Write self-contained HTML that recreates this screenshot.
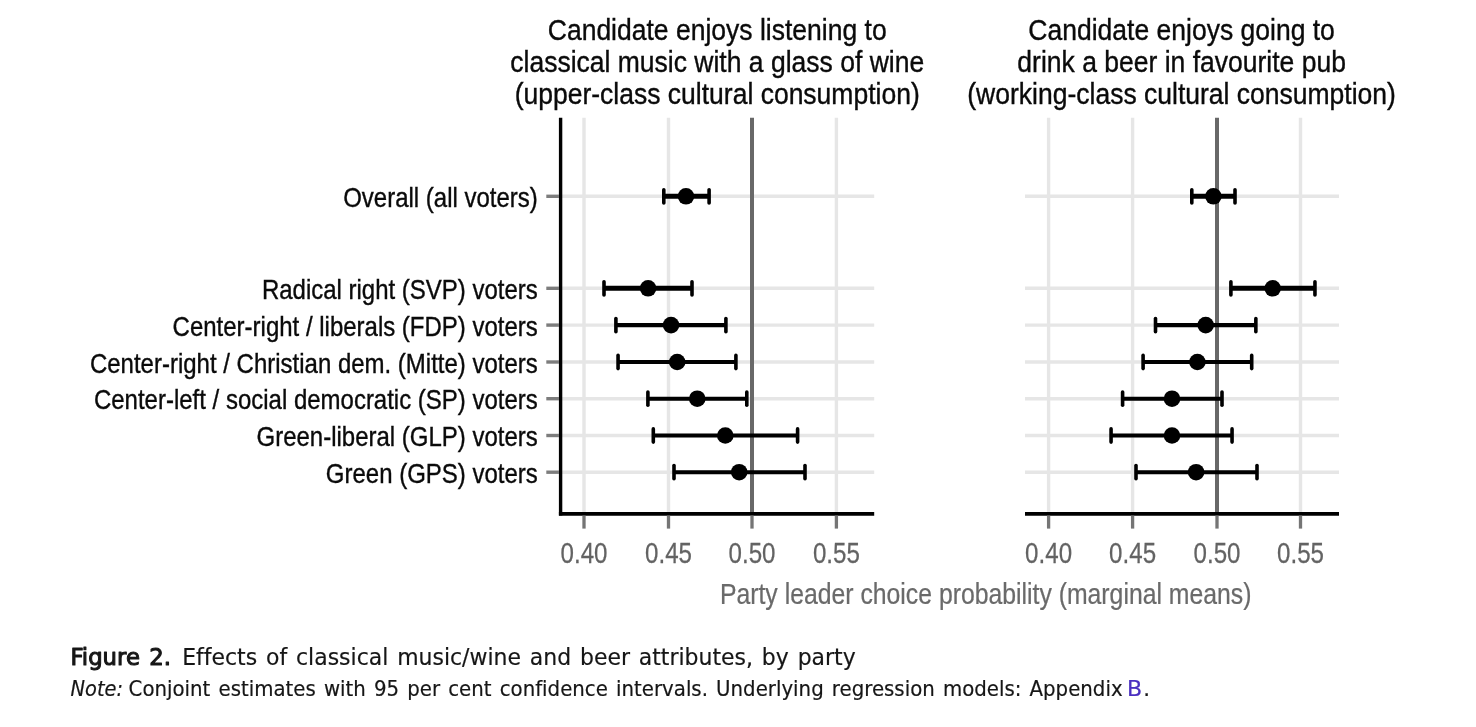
<!DOCTYPE html>
<html lang="en">
<head>
<meta charset="utf-8">
<title>Figure 2. Effects of classical music/wine and beer attributes, by party</title>
<style>
html,body{margin:0;padding:0;background:#fff;}
body{width:1476px;height:727px;overflow:hidden;font-family:"Liberation Sans",sans-serif;}
svg{display:block;}
text{white-space:pre;}
</style>
</head>
<body>
<svg width="1476" height="727" viewBox="0 0 1476 727" font-family="'Liberation Sans', sans-serif">
<rect width="1476" height="727" fill="#fff"/>
<text transform="translate(717.2,39.6) scale(0.8865,1)" text-anchor="middle" font-size="29.9" fill="#0a0a0a" stroke="#0a0a0a" stroke-width="0.38">Candidate enjoys listening to</text>
<text transform="translate(717.2,71.6) scale(0.8865,1)" text-anchor="middle" font-size="29.9" fill="#0a0a0a" stroke="#0a0a0a" stroke-width="0.38">classical music with a glass of wine</text>
<text transform="translate(717.2,103.6) scale(0.8865,1)" text-anchor="middle" font-size="29.9" fill="#0a0a0a" stroke="#0a0a0a" stroke-width="0.38">(upper-class cultural consumption)</text>
<text transform="translate(1181.6,39.6) scale(0.8865,1)" text-anchor="middle" font-size="29.9" fill="#0a0a0a" stroke="#0a0a0a" stroke-width="0.38">Candidate enjoys going to</text>
<text transform="translate(1181.6,71.6) scale(0.8865,1)" text-anchor="middle" font-size="29.9" fill="#0a0a0a" stroke="#0a0a0a" stroke-width="0.38">drink a beer in favourite pub</text>
<text transform="translate(1181.6,103.6) scale(0.8865,1)" text-anchor="middle" font-size="29.9" fill="#0a0a0a" stroke="#0a0a0a" stroke-width="0.38">(working-class cultural consumption)</text>
<line x1="584.0" y1="117.8" x2="584.0" y2="513.8" stroke="#e6e6e6" stroke-width="3.4"/>
<line x1="668.5" y1="117.8" x2="668.5" y2="513.8" stroke="#e6e6e6" stroke-width="3.4"/>
<line x1="836.4" y1="117.8" x2="836.4" y2="513.8" stroke="#e6e6e6" stroke-width="3.4"/>
<line x1="560.6" y1="196.3" x2="874.2" y2="196.3" stroke="#e6e6e6" stroke-width="3.4"/>
<line x1="560.6" y1="288.3" x2="874.2" y2="288.3" stroke="#e6e6e6" stroke-width="3.4"/>
<line x1="560.6" y1="325.1" x2="874.2" y2="325.1" stroke="#e6e6e6" stroke-width="3.4"/>
<line x1="560.6" y1="362.0" x2="874.2" y2="362.0" stroke="#e6e6e6" stroke-width="3.4"/>
<line x1="560.6" y1="398.7" x2="874.2" y2="398.7" stroke="#e6e6e6" stroke-width="3.4"/>
<line x1="560.6" y1="435.5" x2="874.2" y2="435.5" stroke="#e6e6e6" stroke-width="3.4"/>
<line x1="560.6" y1="472.2" x2="874.2" y2="472.2" stroke="#e6e6e6" stroke-width="3.4"/>
<line x1="752.0" y1="117.8" x2="752.0" y2="513.8" stroke="#686868" stroke-width="4"/>
<g stroke="#000" stroke-linecap="round" fill="none"><line x1="663.8" y1="196.3" x2="709.1" y2="196.3" stroke-width="5.0" stroke-linecap="butt"/><line x1="663.8" y1="189.7" x2="663.8" y2="202.9" stroke-width="3.6"/><line x1="709.1" y1="189.7" x2="709.1" y2="202.9" stroke-width="3.6"/></g>
<circle cx="686" cy="196.3" r="8.3" fill="#000"/>
<g stroke="#000" stroke-linecap="round" fill="none"><line x1="604.0" y1="288.3" x2="692" y2="288.3" stroke-width="5.0" stroke-linecap="butt"/><line x1="604.0" y1="281.7" x2="604.0" y2="294.9" stroke-width="3.6"/><line x1="692" y1="281.7" x2="692" y2="294.9" stroke-width="3.6"/></g>
<circle cx="648.1" cy="288.3" r="8.3" fill="#000"/>
<g stroke="#000" stroke-linecap="round" fill="none"><line x1="615.9" y1="325.1" x2="725.9" y2="325.1" stroke-width="4.1" stroke-linecap="butt"/><line x1="615.9" y1="318.5" x2="615.9" y2="331.7" stroke-width="3.6"/><line x1="725.9" y1="318.5" x2="725.9" y2="331.7" stroke-width="3.6"/></g>
<circle cx="671.05" cy="325.1" r="8.3" fill="#000"/>
<g stroke="#000" stroke-linecap="round" fill="none"><line x1="618.06" y1="362.0" x2="735.9" y2="362.0" stroke-width="4.1" stroke-linecap="butt"/><line x1="618.06" y1="355.4" x2="618.06" y2="368.6" stroke-width="3.6"/><line x1="735.9" y1="355.4" x2="735.9" y2="368.6" stroke-width="3.6"/></g>
<circle cx="677.2" cy="362.0" r="8.3" fill="#000"/>
<g stroke="#000" stroke-linecap="round" fill="none"><line x1="647.9" y1="398.7" x2="746.8" y2="398.7" stroke-width="4.1" stroke-linecap="butt"/><line x1="647.9" y1="392.1" x2="647.9" y2="405.3" stroke-width="3.6"/><line x1="746.8" y1="392.1" x2="746.8" y2="405.3" stroke-width="3.6"/></g>
<circle cx="697.25" cy="398.7" r="8.3" fill="#000"/>
<g stroke="#000" stroke-linecap="round" fill="none"><line x1="653.3" y1="435.5" x2="797.6" y2="435.5" stroke-width="4.1" stroke-linecap="butt"/><line x1="653.3" y1="428.9" x2="653.3" y2="442.1" stroke-width="3.6"/><line x1="797.6" y1="428.9" x2="797.6" y2="442.1" stroke-width="3.6"/></g>
<circle cx="725.3" cy="435.5" r="8.3" fill="#000"/>
<g stroke="#000" stroke-linecap="round" fill="none"><line x1="674" y1="472.2" x2="805" y2="472.2" stroke-width="4.1" stroke-linecap="butt"/><line x1="674" y1="465.6" x2="674" y2="478.8" stroke-width="3.6"/><line x1="805" y1="465.6" x2="805" y2="478.8" stroke-width="3.6"/></g>
<circle cx="739.2" cy="472.2" r="8.3" fill="#000"/>
<line x1="558.9" y1="513.8" x2="874.2" y2="513.8" stroke="#000" stroke-width="3.7"/>
<line x1="584.0" y1="515.6" x2="584.0" y2="528.6" stroke="#757575" stroke-width="3.3"/>
<text transform="translate(584.0,562.6) scale(0.815,1)" text-anchor="middle" font-size="29.6" fill="#636363" stroke="#636363" stroke-width="0.25">0.40</text>
<line x1="668.5" y1="515.6" x2="668.5" y2="528.6" stroke="#757575" stroke-width="3.3"/>
<text transform="translate(668.5,562.6) scale(0.815,1)" text-anchor="middle" font-size="29.6" fill="#636363" stroke="#636363" stroke-width="0.25">0.45</text>
<line x1="752.0" y1="515.6" x2="752.0" y2="528.6" stroke="#757575" stroke-width="3.3"/>
<text transform="translate(752.0,562.6) scale(0.815,1)" text-anchor="middle" font-size="29.6" fill="#636363" stroke="#636363" stroke-width="0.25">0.50</text>
<line x1="836.4" y1="515.6" x2="836.4" y2="528.6" stroke="#757575" stroke-width="3.3"/>
<text transform="translate(836.4,562.6) scale(0.815,1)" text-anchor="middle" font-size="29.6" fill="#636363" stroke="#636363" stroke-width="0.25">0.55</text>
<line x1="560.6" y1="117.8" x2="560.6" y2="515.6" stroke="#000" stroke-width="3.4"/>
<line x1="546.3" y1="196.3" x2="559.0" y2="196.3" stroke="#7d7d7d" stroke-width="3.4"/>
<text transform="translate(537.8,206.9) scale(0.857,1)" text-anchor="end" font-size="28" fill="#0a0a0a" stroke="#0a0a0a" stroke-width="0.38">Overall (all voters)</text>
<line x1="546.3" y1="288.3" x2="559.0" y2="288.3" stroke="#7d7d7d" stroke-width="3.4"/>
<text transform="translate(537.8,298.9) scale(0.857,1)" text-anchor="end" font-size="28" fill="#0a0a0a" stroke="#0a0a0a" stroke-width="0.38">Radical right (SVP) voters</text>
<line x1="546.3" y1="325.1" x2="559.0" y2="325.1" stroke="#7d7d7d" stroke-width="3.4"/>
<text transform="translate(537.8,335.7) scale(0.857,1)" text-anchor="end" font-size="28" fill="#0a0a0a" stroke="#0a0a0a" stroke-width="0.38">Center-right / liberals (FDP) voters</text>
<line x1="546.3" y1="362.0" x2="559.0" y2="362.0" stroke="#7d7d7d" stroke-width="3.4"/>
<text transform="translate(537.8,372.6) scale(0.857,1)" text-anchor="end" font-size="28" fill="#0a0a0a" stroke="#0a0a0a" stroke-width="0.38">Center-right / Christian dem. (Mitte) voters</text>
<line x1="546.3" y1="398.7" x2="559.0" y2="398.7" stroke="#7d7d7d" stroke-width="3.4"/>
<text transform="translate(537.8,409.3) scale(0.857,1)" text-anchor="end" font-size="28" fill="#0a0a0a" stroke="#0a0a0a" stroke-width="0.38">Center-left / social democratic (SP) voters</text>
<line x1="546.3" y1="435.5" x2="559.0" y2="435.5" stroke="#7d7d7d" stroke-width="3.4"/>
<text transform="translate(537.8,446.1) scale(0.857,1)" text-anchor="end" font-size="28" fill="#0a0a0a" stroke="#0a0a0a" stroke-width="0.38">Green-liberal (GLP) voters</text>
<line x1="546.3" y1="472.2" x2="559.0" y2="472.2" stroke="#7d7d7d" stroke-width="3.4"/>
<text transform="translate(537.8,482.8) scale(0.857,1)" text-anchor="end" font-size="28" fill="#0a0a0a" stroke="#0a0a0a" stroke-width="0.38">Green (GPS) voters</text>
<line x1="1048.6" y1="117.8" x2="1048.6" y2="513.8" stroke="#e6e6e6" stroke-width="3.4"/>
<line x1="1132.6" y1="117.8" x2="1132.6" y2="513.8" stroke="#e6e6e6" stroke-width="3.4"/>
<line x1="1300.5" y1="117.8" x2="1300.5" y2="513.8" stroke="#e6e6e6" stroke-width="3.4"/>
<line x1="1025.0" y1="196.3" x2="1339.0" y2="196.3" stroke="#e6e6e6" stroke-width="3.4"/>
<line x1="1025.0" y1="288.3" x2="1339.0" y2="288.3" stroke="#e6e6e6" stroke-width="3.4"/>
<line x1="1025.0" y1="325.1" x2="1339.0" y2="325.1" stroke="#e6e6e6" stroke-width="3.4"/>
<line x1="1025.0" y1="362.0" x2="1339.0" y2="362.0" stroke="#e6e6e6" stroke-width="3.4"/>
<line x1="1025.0" y1="398.7" x2="1339.0" y2="398.7" stroke="#e6e6e6" stroke-width="3.4"/>
<line x1="1025.0" y1="435.5" x2="1339.0" y2="435.5" stroke="#e6e6e6" stroke-width="3.4"/>
<line x1="1025.0" y1="472.2" x2="1339.0" y2="472.2" stroke="#e6e6e6" stroke-width="3.4"/>
<line x1="1217.0" y1="117.8" x2="1217.0" y2="513.8" stroke="#686868" stroke-width="4"/>
<g stroke="#000" stroke-linecap="round" fill="none"><line x1="1191.8" y1="196.3" x2="1235" y2="196.3" stroke-width="5.0" stroke-linecap="butt"/><line x1="1191.8" y1="189.7" x2="1191.8" y2="202.9" stroke-width="3.6"/><line x1="1235" y1="189.7" x2="1235" y2="202.9" stroke-width="3.6"/></g>
<circle cx="1213.4" cy="196.3" r="8.3" fill="#000"/>
<g stroke="#000" stroke-linecap="round" fill="none"><line x1="1230.9" y1="288.3" x2="1314.95" y2="288.3" stroke-width="5.0" stroke-linecap="butt"/><line x1="1230.9" y1="281.7" x2="1230.9" y2="294.9" stroke-width="3.6"/><line x1="1314.95" y1="281.7" x2="1314.95" y2="294.9" stroke-width="3.6"/></g>
<circle cx="1272.7" cy="288.3" r="8.3" fill="#000"/>
<g stroke="#000" stroke-linecap="round" fill="none"><line x1="1155.5" y1="325.1" x2="1255.85" y2="325.1" stroke-width="4.1" stroke-linecap="butt"/><line x1="1155.5" y1="318.5" x2="1155.5" y2="331.7" stroke-width="3.6"/><line x1="1255.85" y1="318.5" x2="1255.85" y2="331.7" stroke-width="3.6"/></g>
<circle cx="1205.7" cy="325.1" r="8.3" fill="#000"/>
<g stroke="#000" stroke-linecap="round" fill="none"><line x1="1143.1" y1="362.0" x2="1251.7" y2="362.0" stroke-width="4.1" stroke-linecap="butt"/><line x1="1143.1" y1="355.4" x2="1143.1" y2="368.6" stroke-width="3.6"/><line x1="1251.7" y1="355.4" x2="1251.7" y2="368.6" stroke-width="3.6"/></g>
<circle cx="1197.4" cy="362.0" r="8.3" fill="#000"/>
<g stroke="#000" stroke-linecap="round" fill="none"><line x1="1122.6" y1="398.7" x2="1222" y2="398.7" stroke-width="4.1" stroke-linecap="butt"/><line x1="1122.6" y1="392.1" x2="1122.6" y2="405.3" stroke-width="3.6"/><line x1="1222" y1="392.1" x2="1222" y2="405.3" stroke-width="3.6"/></g>
<circle cx="1172" cy="398.7" r="8.3" fill="#000"/>
<g stroke="#000" stroke-linecap="round" fill="none"><line x1="1111.06" y1="435.5" x2="1232.05" y2="435.5" stroke-width="4.1" stroke-linecap="butt"/><line x1="1111.06" y1="428.9" x2="1111.06" y2="442.1" stroke-width="3.6"/><line x1="1232.05" y1="428.9" x2="1232.05" y2="442.1" stroke-width="3.6"/></g>
<circle cx="1172" cy="435.5" r="8.3" fill="#000"/>
<g stroke="#000" stroke-linecap="round" fill="none"><line x1="1136" y1="472.2" x2="1257" y2="472.2" stroke-width="4.1" stroke-linecap="butt"/><line x1="1136" y1="465.6" x2="1136" y2="478.8" stroke-width="3.6"/><line x1="1257" y1="465.6" x2="1257" y2="478.8" stroke-width="3.6"/></g>
<circle cx="1196.1" cy="472.2" r="8.3" fill="#000"/>
<line x1="1025.0" y1="513.8" x2="1339.0" y2="513.8" stroke="#000" stroke-width="3.7"/>
<line x1="1048.6" y1="515.6" x2="1048.6" y2="528.6" stroke="#757575" stroke-width="3.3"/>
<text transform="translate(1048.6,562.6) scale(0.815,1)" text-anchor="middle" font-size="29.6" fill="#636363" stroke="#636363" stroke-width="0.25">0.40</text>
<line x1="1132.6" y1="515.6" x2="1132.6" y2="528.6" stroke="#757575" stroke-width="3.3"/>
<text transform="translate(1132.6,562.6) scale(0.815,1)" text-anchor="middle" font-size="29.6" fill="#636363" stroke="#636363" stroke-width="0.25">0.45</text>
<line x1="1217.0" y1="515.6" x2="1217.0" y2="528.6" stroke="#757575" stroke-width="3.3"/>
<text transform="translate(1217.0,562.6) scale(0.815,1)" text-anchor="middle" font-size="29.6" fill="#636363" stroke="#636363" stroke-width="0.25">0.50</text>
<line x1="1300.5" y1="515.6" x2="1300.5" y2="528.6" stroke="#757575" stroke-width="3.3"/>
<text transform="translate(1300.5,562.6) scale(0.815,1)" text-anchor="middle" font-size="29.6" fill="#636363" stroke="#636363" stroke-width="0.25">0.55</text>
<text transform="translate(985.7,603.8) scale(0.8544,1)" text-anchor="middle" font-size="29" fill="#6a6a6a" stroke="#6a6a6a" stroke-width="0.25">Party leader choice probability (marginal means)</text>
<g font-family="'DejaVu Sans', 'Liberation Sans', sans-serif" fill="#161616" stroke="#161616" stroke-width="0.2" style="font-variant-ligatures:none;font-feature-settings:'liga' 0,'clig' 0" word-spacing="2">
<text x="70.4" y="664.6" font-size="23" stroke-width="1.05" stroke-linejoin="round" textLength="100.5" lengthAdjust="spacingAndGlyphs">Figure 2.</text>
<text x="182.2" y="664.6" font-size="23.4" textLength="673.5" lengthAdjust="spacingAndGlyphs">Effects of classical music/wine and beer attributes, by party</text>
<text x="70.6" y="695.7" font-size="21.4" font-style="italic" textLength="52.5" lengthAdjust="spacingAndGlyphs">Note:</text>
<text x="128.6" y="695.7" font-size="21.4" textLength="994" lengthAdjust="spacingAndGlyphs">Conjoint estimates with 95 per cent confidence intervals. Underlying regression models: Appendix</text>
<text x="1127.0" y="695.7" font-size="21.4" textLength="15.2" lengthAdjust="spacingAndGlyphs" fill="#4a2fc0" stroke="#4a2fc0">B</text>
<text x="1143.2" y="695.7" font-size="21.4">.</text>
</g>
</svg>
</body>
</html>
